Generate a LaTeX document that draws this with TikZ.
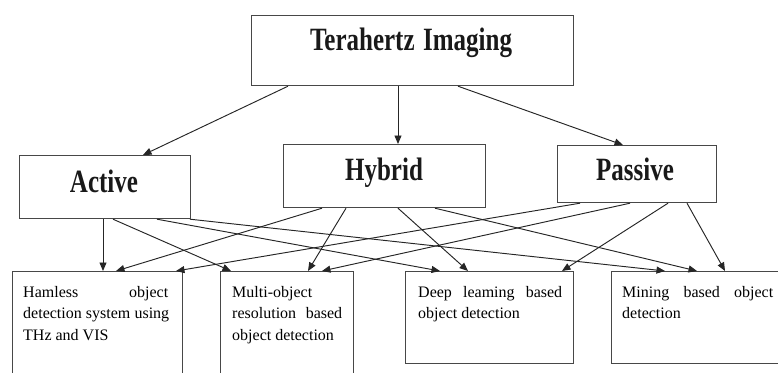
\documentclass[tikz,border=0pt]{standalone}
\usepackage{fontspec}
\setmainfont{Liberation Serif}
\usetikzlibrary{arrows.meta}
\tikzset{
  boxstyle/.style={draw=black!72, line width=1.2pt, rectangle, inner sep=0pt, anchor=north west},
  conn/.style={draw=black!85, line width=0.95pt, -{Triangle[length=8.5pt,width=7pt]}},
  headtxt/.style={font=\bfseries\fontsize{25}{30}\selectfont, inner sep=0pt, anchor=base, text=black!90},
  bodytxt/.style={font=\fontsize{16}{21.5}\selectfont, inner sep=0pt, anchor=north west, align=left, text=black}
}
\newcommand{\vstretch}[1]{\scalebox{1}[1.3]{#1}}
\begin{document}
\begin{tikzpicture}[x=1pt,y=-1pt]
\useasboundingbox (0,0) rectangle (778,372);
% boxes
\node[boxstyle, minimum width=322pt, minimum height=70pt] (top) at (251,15) {};
\node[boxstyle, minimum width=171pt, minimum height=63pt] (act) at (19,155) {};
\node[boxstyle, minimum width=202pt, minimum height=63pt] (hyb) at (283,144) {};
\node[boxstyle, minimum width=159pt, minimum height=57pt] (pas) at (557,145) {};
\node[boxstyle, minimum width=170pt, minimum height=120pt] (b1) at (12,271) {};
\node[boxstyle, minimum width=133pt, minimum height=120pt] (b2) at (220,271) {};
\node[boxstyle, minimum width=168pt, minimum height=92pt] (b3) at (405,271) {};
\node[boxstyle, minimum width=200pt, minimum height=92pt] (b4) at (611,271) {};
% header texts
\node[headtxt] (ttop) at (411,50) {\vstretch{\makebox[202pt][s]{Terahertz \ Imaging}}};
\node[headtxt] (tact) at (104,192) {\vstretch{Active}};
\node[headtxt] (thyb) at (384,180) {\vstretch{Hybrid}};
\node[headtxt] (tpas) at (635,180) {\vstretch{Passive}};
% body texts
\node[bodytxt] (t1) at (23,286) {\makebox[145pt][s]{Hamless object}\\\makebox[146pt][s]{detection system using}\\THz and VIS};
\node[bodytxt] (t2) at (232,286) {Multi-object\\\makebox[110pt][s]{resolution based}\\object detection};
\node[bodytxt] (t3) at (418,286) {\makebox[144pt][s]{Deep leaming based}\\object detection};
\node[bodytxt] (t4) at (622,286) {\makebox[151pt][s]{Mining based object}\\detection};
% connectors from top
\draw[conn] ([xshift=37pt]top.south west) -- ([xshift=124pt]act.north west);
\draw[conn] ([xshift=147pt]top.south west) -- ([xshift=115pt]hyb.north west);
\draw[conn] ([xshift=207pt]top.south west) -- ([xshift=66pt]pas.north west);
% from Active
\draw[conn] ([xshift=84pt]act.south west) -- ([xshift=91pt]b1.north west);
\draw[conn] ([xshift=94pt]act.south west) -- ([xshift=11pt]b2.north west);
\draw[conn] ([xshift=138pt]act.south west) -- ([xshift=35pt]b3.north west);
\draw[conn] ([xshift=171pt]act.south west) -- ([xshift=54pt]b4.north west);
% from Hybrid
\draw[conn] ([xshift=39pt]hyb.south west) -- ([xshift=104pt]b1.north west);
\draw[conn] ([xshift=63pt]hyb.south west) -- ([xshift=88pt]b2.north west);
\draw[conn] ([xshift=115pt]hyb.south west) -- ([xshift=63pt]b3.north west);
\draw[conn] ([xshift=152pt]hyb.south west) -- ([xshift=86pt]b4.north west);
% from Passive
\draw[conn] ([xshift=23pt]pas.south west) -- ([xshift=164pt]b1.north west);
\draw[conn] ([xshift=73pt]pas.south west) -- ([xshift=102pt]b2.north west);
\draw[conn] ([xshift=111pt]pas.south west) -- ([xshift=157pt]b3.north west);
\draw[conn] ([xshift=130pt]pas.south west) -- ([xshift=114pt]b4.north west);
\end{tikzpicture}
\end{document}
